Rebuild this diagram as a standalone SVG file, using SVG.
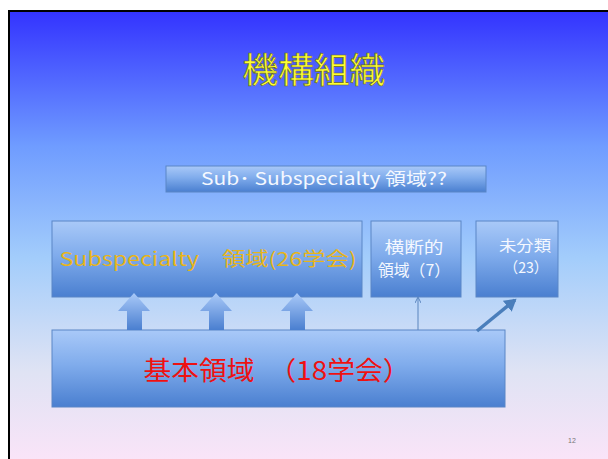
<svg xmlns="http://www.w3.org/2000/svg" width="608" height="459" viewBox="0 0 608 459">
<defs>
<linearGradient id="bg" x1="0" y1="0" x2="0" y2="1">
<stop offset="0" stop-color="#3333ff"/>
<stop offset="0.3" stop-color="#6f9cff"/>
<stop offset="0.55" stop-color="#a3cdfb"/>
<stop offset="0.8" stop-color="#dfe3f4"/>
<stop offset="1" stop-color="#fae4f8"/>
</linearGradient>
<linearGradient id="box" x1="0" y1="0" x2="0" y2="1">
<stop offset="0" stop-color="#a9c9f8"/>
<stop offset="0.45" stop-color="#80acec"/>
<stop offset="1" stop-color="#4a7fd0"/>
</linearGradient>
<linearGradient id="arr" x1="0" y1="0" x2="0" y2="1">
<stop offset="0" stop-color="#a9c9f8"/>
<stop offset="1" stop-color="#4a7fd0"/>
</linearGradient>
<marker id="thin" markerWidth="6" markerHeight="6" refX="5" refY="3" orient="auto" markerUnits="userSpaceOnUse">
<path d="M0,0 L6,3 L0,6" fill="none" stroke="#5b85be" stroke-width="1"/>
</marker>
<marker id="thick" markerWidth="14" markerHeight="14" refX="10" refY="7" orient="auto" markerUnits="userSpaceOnUse">
<path d="M0,0 L12,7 L0,14 Z" fill="#4a7ebb"/>
</marker>
</defs>
<style>
.b{fill:url(#box);stroke:#5a86c6;stroke-width:1}
.t{font-family:"Noto Sans CJK JP","Liberation Sans",sans-serif;text-anchor:middle}
.w{fill:#f4f8ff}
</style>
<rect x="0" y="0" width="608" height="459" fill="#ffffff"/>
<rect x="9" y="11" width="600" height="450" fill="url(#bg)" stroke="#000" stroke-width="2"/>
<text class="t" x="314" y="83" font-size="35" fill="#ffff33" stroke="#6b6b20" stroke-width="0.6" textLength="143" lengthAdjust="spacingAndGlyphs">機構組織</text>
<g id="sub2">
<rect class="b" x="166" y="166" width="320" height="26"/>
<text class="t w" x="324" y="185" font-size="17" textLength="246" lengthAdjust="spacingAndGlyphs">Sub･ Subspecialty  領域??</text>
</g>
<g id="sub">
<rect class="b" x="52" y="221" width="310" height="76"/>
<text class="t" x="208" y="266" font-size="19" fill="#e8b51a" textLength="297" lengthAdjust="spacingAndGlyphs">Subspecialty　領域(26学会)</text>
</g>
<g id="cross">
<rect class="b" x="371" y="221" width="90" height="76"/>
<text class="t w" x="414" y="253" font-size="16" textLength="59" lengthAdjust="spacingAndGlyphs">横断的</text>
<text class="t w" x="414" y="276" font-size="16" textLength="72" lengthAdjust="spacingAndGlyphs">領域（7）</text>
</g>
<g id="unclass">
<rect class="b" x="476" y="221" width="82" height="76"/>
<text class="t w" x="525" y="251" font-size="15" textLength="52" lengthAdjust="spacingAndGlyphs">未分類</text>
<text class="t w" x="526" y="273" font-size="15" textLength="44" lengthAdjust="spacingAndGlyphs">（23）</text>
</g>
<g id="base">
<rect class="b" x="52" y="330" width="453" height="77"/>
<text class="t" x="277" y="380" font-size="26" fill="#ee1111" textLength="267" lengthAdjust="spacingAndGlyphs">基本領域　（18学会）</text>
</g>
<g id="connectors">
<path d="M134,293 L150,311 L142,311 L142,330 L127,330 L127,311 L118,311 Z" fill="url(#arr)"/>
<path d="M216,293 L232,311 L224,311 L224,330 L209,330 L209,311 L200,311 Z" fill="url(#arr)"/>
<path d="M297,293 L313,311 L305,311 L305,330 L290,330 L290,311 L281,311 Z" fill="url(#arr)"/>
<line x1="418" y1="330" x2="418" y2="298" stroke="#5b85be" stroke-width="1" marker-end="url(#thin)"/>
<line x1="477" y1="331" x2="515" y2="300" stroke="#4a7ebb" stroke-width="3.5" marker-end="url(#thick)"/>
</g>
<text x="572" y="443" font-family="Liberation Sans,sans-serif" font-size="7" fill="#777" text-anchor="middle">12</text>
</svg>
